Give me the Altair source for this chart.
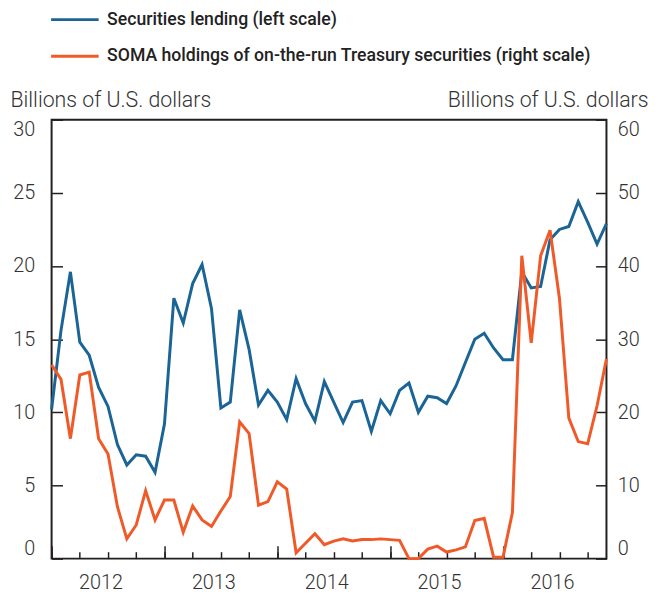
import altair as alt
import pandas as pd

# ---- data (monthly, Jan 2012 - Dec 2016) ----
years = ["2012", "2013", "2014", "2015", "2016"]
month_names = ["01", "02", "03", "04", "05", "06", "07", "08", "09", "10", "11", "12"]
months = [f"{y}-{m}" for y in years for m in month_names]

securities_lending = [
    10.2, 15.6, 19.6, 14.8, 13.9, 11.7, 10.4, 7.8, 6.4, 7.1, 7.0, 5.9,
    9.2, 17.8, 16.1, 18.8, 20.1, 17.1, 10.3, 10.7, 17.0, 14.3, 10.5, 11.5,
    10.7, 9.5, 12.3, 10.6, 9.4, 12.1, 10.7, 9.3, 10.7, 10.8, 8.7, 10.8,
    9.9, 11.5, 12.0, 10.0, 11.1, 11.0, 10.6, 11.8, 13.4, 15.0, 15.4, 14.4,
    13.6, 13.6, 19.6, 18.5, 18.6, 21.8, 22.5, 22.7, 24.4, 23.0, 21.5, 22.9,
]
soma_holdings = [
    26.5, 24.5, 16.4, 25.1, 25.5, 16.4, 14.3, 7.1, 2.7, 4.6, 9.3, 5.3,
    8.0, 8.0, 3.6, 7.2, 5.3, 4.4, 6.5, 8.5, 18.7, 17.1, 7.3, 7.8,
    10.5, 9.5, 0.8, 2.1, 3.4, 1.9, 2.4, 2.7, 2.4, 2.6, 2.6, 2.7,
    2.6, 2.5, 0.0, 0.0, 1.3, 1.7, 0.9, 1.2, 1.6, 5.2, 5.5, 0.2,
    0.2, 6.3, 41.4, 29.5, 41.4, 44.9, 35.6, 19.2, 16.0, 15.7, 20.9, 27.3,
]

series_names = [
    "Securities lending (left scale)",
    "SOMA holdings of on-the-run Treasury securities (right scale)",
]
colors = ["#1a6496", "#f05a28"]

left_ticks = [0, 5, 10, 15, 20, 25, 30]
right_ticks = [0, 10, 20, 30, 40, 50, 60]
quarter_ticks = [0, 3, 6, 9, 12, 15, 18, 21, 24, 27, 30, 33, 36, 39, 42, 45, 48, 51, 54, 57]
year_ticks = [0, 12, 24, 36, 48]
year_label_pos = [5.2, 17.2, 29.2, 41.2, 53.2]

df = pd.DataFrame({
    "t": list(range(len(months))),
    "month": months,
    "lending": securities_lending,
    "soma": soma_holdings,
})

INK = "#231f20"
TXT = "#333333"
FONT = "Roboto"
year_expr = "[" + ",".join(f"'{y}'" for y in years) + "][floor(datum.value/12)]"

xscale = alt.Scale(domain=[0, len(months) - 1], nice=False, zero=False)
color_scale = alt.Scale(domain=series_names, range=colors)

legend = alt.Legend(
    title=None, orient="none", legendX=-2, legendY=-111, direction="vertical",
    symbolType="stroke", symbolSize=2304, symbolStrokeWidth=3, clipHeight=20,
    rowPadding=17, labelOffset=7, labelFontSize=17.8,
    labelFont=FONT, labelFontWeight=500, labelColor="#222222", padding=0, labelLimit=800,
)

base = alt.Chart(df)

lend = base.transform_calculate(series=f"'{series_names[0]}'").mark_line(
    strokeWidth=3, clip=False
).encode(
    x=alt.X("t:Q", scale=xscale, axis=alt.Axis(
        values=year_label_pos, labelExpr=year_expr, ticks=False, domain=False,
        grid=False, title=None, orient="bottom", labelPadding=14, labelFlush=False)),
    y=alt.Y("lending:Q", scale=alt.Scale(domain=[0, 30], nice=False), axis=alt.Axis(
        values=left_ticks, tickSize={"expr": "-11"}, labelPadding=28, labelFlush=True,
        title="Billions of U.S. dollars", titleAngle=0, titleAlign="left",
        titleBaseline="alphabetic", titleX=-42, titleY=-13,
        domain=False, grid=False, orient="left")),
    color=alt.Color("series:N", scale=color_scale, legend=legend),
)

soma = base.transform_calculate(series=f"'{series_names[1]}'").mark_line(
    strokeWidth=3, clip=False
).encode(
    x=alt.X("t:Q", scale=xscale, axis=alt.Axis(
        values=quarter_ticks, labels=False, tickSize={"expr": "-7"}, domain=False,
        grid=False, title=None, orient="bottom")),
    y=alt.Y("soma:Q", scale=alt.Scale(domain=[0, 60], nice=False), axis=alt.Axis(
        values=right_ticks, tickSize={"expr": "-11"}, labelPadding=22, labelFlush=True,
        title="Billions of U.S. dollars", titleAngle=0, titleAlign="right",
        titleBaseline="alphabetic", titleX=42, titleY=-13,
        domain=False, grid=False, orient="right")),
    color=alt.Color("series:N", scale=color_scale, legend=legend),
)

year_tick_layer = base.mark_line(opacity=0).encode(
    x=alt.X("t:Q", scale=xscale, axis=alt.Axis(
        values=year_ticks, labels=False, tickSize={"expr": "-13"}, domain=False,
        grid=False, title=None, orient="bottom")),
    y=alt.Y("lending:Q", scale=alt.Scale(domain=[0, 30], nice=False), axis=None),
)

chart = alt.layer(lend, soma, year_tick_layer).resolve_scale(
    y="independent"
).resolve_axis(
    x="independent", y="independent"
).properties(
    width=560, height=443,
    autosize=alt.AutoSizeParams(type="none"),
    padding={"left": 44, "top": 110, "right": 50, "bottom": 36},
).configure_view(
    stroke=INK, strokeWidth=2,
).configure_axis(
    labelFont=FONT, labelFontWeight=300, labelFontSize=20, labelColor=TXT,
    titleFont=FONT, titleFontWeight=300, titleFontSize=21.5, titleColor=TXT,
    tickColor=INK, tickWidth=1.5,
)

chart.save("out.html", embed_options={"renderer": "svg", "actions": False})
